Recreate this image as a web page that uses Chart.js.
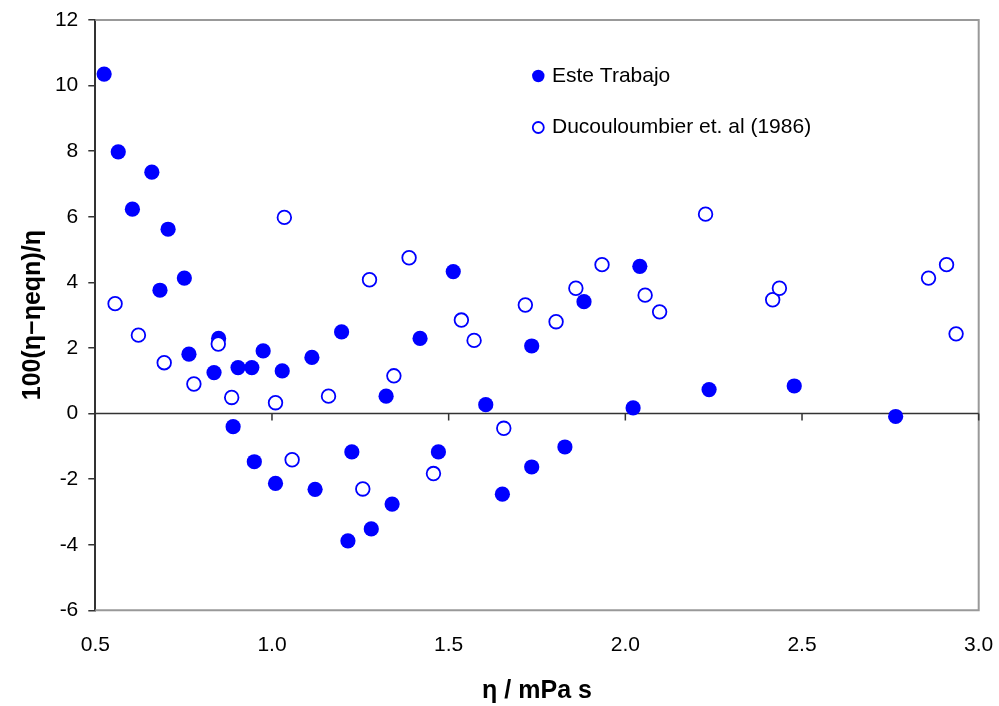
<!DOCTYPE html>
<html><head><meta charset="utf-8">
<script src="https://cdn.jsdelivr.net/npm/chart.js@4.4.1/dist/chart.umd.min.js"></script>
<style>html,body{margin:0;padding:0;background:#fff;}#wrap{width:999px;height:706px;}</style>
</head><body><div id="wrap"><canvas id="c" width="999" height="706"></canvas></div>
<script>
const seriesNames = ['Este Trabajo', 'Ducouloumbier et. al (1986)'];
const esteX = [0.525,0.565,0.605,0.660,0.706,0.683,0.752,0.765,0.836,0.849,0.904,0.943,0.975,1.029,1.113,1.197,0.890,0.950,1.010,1.122,1.215,1.226,1.513,1.419,1.323,1.605,1.735,1.883,2.041,2.022,1.471,1.829,1.735,1.652,1.340,1.281,2.237,2.478,2.765];
const esteY = [10.35,7.98,6.23,7.36,5.62,3.76,4.13,1.81,1.25,2.29,1.40,1.40,1.91,1.30,1.71,2.49,-0.40,-1.47,-2.13,-2.31,-3.88,-1.17,4.33,2.29,0.53,0.27,2.06,3.41,4.49,0.17,-1.17,-1.02,-1.63,-2.46,-2.76,-3.52,0.73,0.84,-0.09];
const ducoX = [1.035,0.556,0.622,0.695,0.779,0.848,0.886,1.010,1.160,1.057,1.388,1.276,1.536,1.572,1.345,1.717,1.804,1.860,1.934,2.056,2.097,1.656,1.457,1.257,2.227,2.417,2.436,2.858,2.909,2.936];
const ducoY = [5.98,3.35,2.39,1.55,0.90,2.12,0.49,0.33,0.53,-1.41,4.75,4.08,2.85,2.23,1.15,3.31,2.80,3.82,4.54,3.61,3.10,-0.45,-1.83,-2.30,6.08,3.47,3.82,4.13,4.54,2.43];
const xTicks = [0.5,1.0,1.5,2.0,2.5,3.0];
const yTicks = [-6,-4,-2,0,2,4,6,8,10,12];
const xTitle = 'η / mPa s';
const yTitle = '100(η−ηeqn)/η';

const FAM = '"Liberation Sans", Arial, sans-serif';
const BLUE = '#0000FF';
const toPts = (xs, ys) => xs.map((v, i) => ({x: v, y: ys[i]}));

const framePlugin = {
  id: 'frame',
  beforeDatasetsDraw(chart) {
    const {ctx, chartArea: {left, right, top, bottom}, scales: {x, y}} = chart;
    ctx.save();
    ctx.strokeStyle = '#999';
    ctx.lineWidth = 2;
    ctx.beginPath();
    ctx.moveTo(left, top); ctx.lineTo(right, top); ctx.lineTo(right, bottom); ctx.lineTo(left, bottom);
    ctx.stroke();
    const y0 = y.getPixelForValue(0);
    ctx.strokeStyle = '#333';
    ctx.lineWidth = 1.5;
    ctx.beginPath();
    ctx.moveTo(left, y0); ctx.lineTo(right, y0);
    xTicks.forEach(v => { const px = x.getPixelForValue(v); ctx.moveTo(px, y0); ctx.lineTo(px, y0 + 7); });
    ctx.stroke();
    ctx.restore();
  }
};

const legendPlugin = {
  id: 'customLegend',
  afterDraw(chart) {
    const ctx = chart.ctx;
    const rows = [{y: 76, ds: chart.data.datasets[1]}, {y: 127.5, ds: chart.data.datasets[0]}];
    ctx.save();
    rows.forEach(r => {
      const ds = r.ds;
      ctx.beginPath();
      ctx.arc(538.3, r.y, ds.legendRadius, 0, Math.PI * 2);
      ctx.fillStyle = ds.backgroundColor;
      ctx.fill();
      ctx.lineWidth = ds.borderWidth;
      ctx.strokeStyle = ds.borderColor;
      if (ds.borderWidth > 0) ctx.stroke();
      ctx.fillStyle = '#000';
      ctx.font = '21px ' + FAM;
      ctx.textAlign = 'left';
      ctx.textBaseline = 'middle';
      ctx.fillText(ds.label, 552, r.y);
    });
    ctx.restore();
  }
};

new Chart(document.getElementById('c'), {
  type: 'scatter',
  data: {
    datasets: [
      {label: seriesNames[1], data: toPts(ducoX, ducoY), backgroundColor: '#FFFFFF', borderColor: BLUE,
       borderWidth: 1.8, pointRadius: 6.8, pointHoverRadius: 6.8, legendRadius: 5.5, order: 0},
      {label: seriesNames[0], data: toPts(esteX, esteY), backgroundColor: BLUE, borderColor: BLUE,
       borderWidth: 0, pointRadius: 7.6, pointHoverRadius: 7.6, legendRadius: 6.2, order: 1}
    ]
  },
  options: {
    responsive: false,
    animation: false,
    devicePixelRatio: 1,
    layout: {padding: {top: 20, right: 20.3, left: 0, bottom: 0}},
    plugins: {legend: {display: false}, tooltip: {enabled: false}},
    scales: {
      x: {
        type: 'linear', min: 0.5, max: 3.0,
        afterBuildTicks: s => { s.ticks = xTicks.map(v => ({value: v})); },
        ticks: {callback: v => Number(v).toFixed(1), color: '#000', font: {size: 21, family: FAM}, padding: 22, maxRotation: 0, autoSkip: false},
        grid: {display: false, drawTicks: false},
        border: {display: false},
        title: {display: true, text: xTitle, color: '#000', font: {size: 25, weight: 'bold', family: FAM}, padding: {top: 0, bottom: 0}},
        afterFit: s => { s.height = 95.7; s.paddingLeft = 0; s.paddingRight = 0; }
      },
      y: {
        type: 'linear', min: -6, max: 12,
        afterBuildTicks: s => { s.ticks = yTicks.map(v => ({value: v})); },
        ticks: {color: '#000', font: {size: 21, family: FAM}, padding: 10, autoSkip: false},
        grid: {drawOnChartArea: false, tickLength: 7, color: '#333', lineWidth: 1.5},
        border: {color: '#333', width: 2},
        title: {display: true, text: yTitle, color: '#000', font: {size: 25, weight: 'bold', family: FAM}, padding: {top: 18, bottom: 18}},
        afterFit: s => { s.width = 95.3; s.paddingTop = 0; s.paddingBottom = 0; }
      }
    }
  },
  plugins: [framePlugin, legendPlugin]
});
</script>
</body></html>
